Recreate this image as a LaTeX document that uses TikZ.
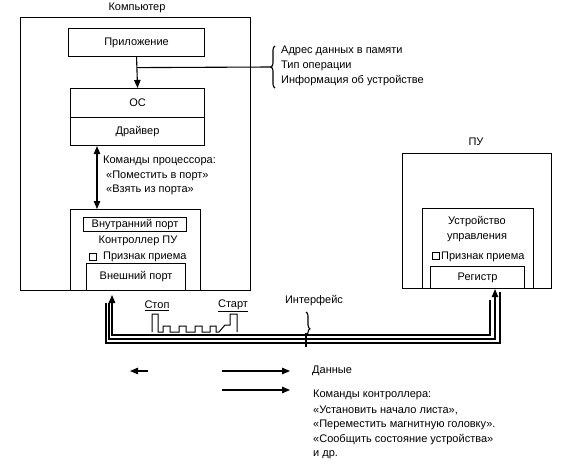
\documentclass[tikz,border=0pt]{standalone}
\usepackage{fontspec}
\setmainfont{Liberation Sans}
\usetikzlibrary{arrows.meta,decorations.pathreplacing}
\begin{document}
\begin{tikzpicture}[x=1pt,y=-1pt,
  box/.style={draw, line width=1.1pt, inner sep=0pt, anchor=north west},
  lbl/.style={font=\fontsize{11}{12}\selectfont, inner sep=0pt},
  ln/.style={line width=1.1pt},
  tip/.tip={Triangle[length=8pt,width=6.5pt]},
  arr/.style={ln, -tip},
  rarr/.style={ln, tip-},
  dbl/.style={ln, tip-tip},
  chk/.style={draw, line width=1pt, minimum size=7pt, inner sep=0pt, anchor=north west}]
\useasboundingbox (0,0) rectangle (575,466);
% Computer
\node[box, minimum width=230pt, minimum height=273pt] (comp) at (20,17) {};
\node[lbl] (compl) at (137,8) {Компьютер};
\node[box, minimum width=136pt, minimum height=28pt, lbl] (app) at (68,28) {Приложение};
\node[box, minimum width=134pt, minimum height=29pt, lbl] (os) at (70,88) {ОС};
\node[box, minimum width=134pt, minimum height=28pt, lbl] (drv) at (70,117) {Драйвер};
\node[box, minimum width=130pt, minimum height=81pt] (ctrl) at (70,209) {};
\node[box, minimum width=103pt, minimum height=14pt, lbl] (inport) at (83,217) {Внутранний порт};
\node[lbl] (ctrll) at (138,241) {Контроллер ПУ};
\node[chk] (chk1) at (89,253) {};
\node[lbl, anchor=west] (flag1) at (103,257) {Признак приема};
\node[box, minimum width=99pt, minimum height=27pt, lbl] (extport) at (86,263) {Внешний порт};
% arrow app -> os
\draw[arr] (app.south) -- (os.north);
\path (app.south) -- (os.north) coordinate[pos=0.34] (j);
\coordinate (bt) at (271,67);
\draw[ln] (j) -- (bt);
\draw[ln, decorate, decoration={brace, amplitude=4pt}] (275,88) -- (275,46);
\node[lbl, anchor=west] (t1) at (281,51) {Адрес данных в памяти};
\node[lbl, anchor=west] (t2) at (281,66) {Тип операции};
\node[lbl, anchor=west] (t3) at (281,81) {Информация об устройстве};
% processor commands
\coordinate (cx) at (97,0);
\draw[dbl] (drv.south -| cx) -- (ctrl.north -| cx);
\node[lbl, anchor=west] (c1) at (103,161) {Команды процессора:};
\node[lbl, anchor=west] (c2) at (106,176) {«Поместить в порт»};
\node[lbl, anchor=west] (c3) at (106,190) {«Взять из порта»};
% Peripheral
\node[box, minimum width=149pt, minimum height=135pt] (pu) at (402,153) {};
\node[lbl] (pul) at (476,142) {ПУ};
\node[box, minimum width=111pt, minimum height=80pt] (dev) at (422,208) {};
\node[lbl, align=center, font=\fontsize{11}{15}\selectfont] (devl) at (477,229) {Устройство\\управления};
\node[chk] (chk2) at (432,252) {};
\node[lbl, anchor=west] (flag2) at (441,257) {Признак приема};
\node[box, minimum width=94pt, minimum height=22pt, lbl] (reg) at (430,266) {Регистр};
% bus
\coordinate (a1) at (112,295);
\coordinate (a2) at (109,303);
\coordinate (a3) at (106,303);
\coordinate (b1) at (490,300);
\coordinate (b3) at (500,292);
\coordinate (bx) at (495,0);
\draw[rarr] (a1) -- (112,335) -- (490,335) -- (b1);
\draw[arr] (a2) -- (109,339) -- (495,339) -- (reg.south -| bx);
\draw[ln] (a3) -- (106,343) -- (500,343) -- (b3);
% waveform
\draw[line width=1pt] (152,332) -- (152,314) -- (158,314) -- (158,332) -- (163,332) -- (163,326) -- (170,326) -- (170,332)
  -- (179,332) -- (179,326) -- (186,326) -- (186,332) -- (195,332) -- (195,326) -- (202,326) -- (202,332)
  -- (210,332) -- (210,326) -- (216,326) -- (216,332) -- (219,332) -- (225,325) -- (230,325) -- (230,314)
  -- (237,314) -- (237,332);
\node[lbl] (stop) at (157,306) {\underline{Стоп}};
\node[lbl] (start) at (233,306) {\underline{Старт}};
\node[lbl] (intf) at (314,301) {Интерфейс};
\draw[ln, decorate, decoration={brace, amplitude=4pt, aspect=0.7}] (306,312) -- (306,336);
\coordinate (k1) at (306,333);
\coordinate (k2) at (306,347);
\draw[ln] (k1) -- (k2);
% legend
\coordinate (l1a) at (148,371);
\coordinate (l1b) at (130,371);
\coordinate (l2a) at (222,371);
\coordinate (l2b) at (290,371);
\coordinate (l3a) at (222,390);
\coordinate (l3b) at (290,390);
\draw[arr] (l1a) -- (l1b);
\draw[arr] (l2a) -- (l2b);
\draw[arr] (l3a) -- (l3b);
\node[lbl, anchor=west] (d1) at (312,371) {Данные};
\node[lbl, anchor=west] (k1t) at (313,395) {Команды контроллера:};
\node[lbl, anchor=west] (k2t) at (313,410) {«Установить начало листа»,};
\node[lbl, anchor=west] (k3t) at (313,425) {«Переместить магнитную головку».};
\node[lbl, anchor=west] (k4t) at (313,440) {«Сообщить состояние устройства»};
\node[lbl, anchor=west] (k5t) at (313,455) {и др.};
\end{tikzpicture}
\end{document}
